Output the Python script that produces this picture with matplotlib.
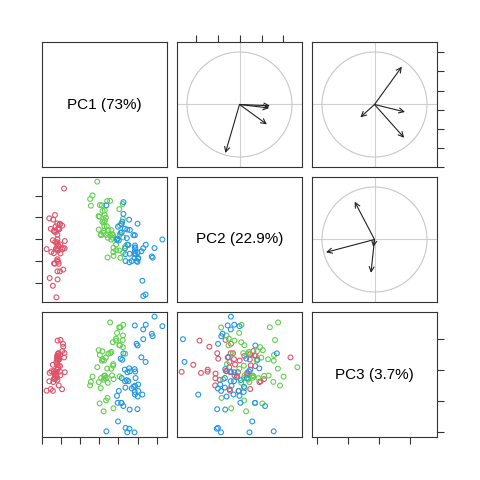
import numpy as np
import matplotlib
matplotlib.use('Agg')
import matplotlib.pyplot as plt
from matplotlib.patches import Circle

plt.rcParams['font.family'] = ['Liberation Sans', 'DejaVu Sans']

# iris measurements: sepal length, sepal width, petal length, petal width
sepal_len = [5.1,4.9,4.7,4.6,5.0,5.4,4.6,5.0,4.4,4.9,5.4,4.8,4.8,4.3,5.8,5.7,5.4,5.1,5.7,5.1,
             5.4,5.1,4.6,5.1,4.8,5.0,5.0,5.2,5.2,4.7,4.8,5.4,5.2,5.5,4.9,5.0,5.5,4.9,4.4,5.1,
             5.0,4.5,4.4,5.0,5.1,4.8,5.1,4.6,5.3,5.0,
             7.0,6.4,6.9,5.5,6.5,5.7,6.3,4.9,6.6,5.2,5.0,5.9,6.0,6.1,5.6,6.7,5.6,5.8,6.2,5.6,
             5.9,6.1,6.3,6.1,6.4,6.6,6.8,6.7,6.0,5.7,5.5,5.5,5.8,6.0,5.4,6.0,6.7,6.3,5.6,5.5,
             5.5,6.1,5.8,5.0,5.6,5.7,5.7,6.2,5.1,5.7,
             6.3,5.8,7.1,6.3,6.5,7.6,4.9,7.3,6.7,7.2,6.5,6.4,6.8,5.7,5.8,6.4,6.5,7.7,7.7,6.0,
             6.9,5.6,7.7,6.3,6.7,7.2,6.2,6.1,6.4,7.2,7.4,7.9,6.4,6.3,6.1,7.7,6.3,6.4,6.0,6.9,
             6.7,6.9,5.8,6.8,6.7,6.7,6.3,6.5,6.2,5.9]
sepal_wid = [3.5,3.0,3.2,3.1,3.6,3.9,3.4,3.4,2.9,3.1,3.7,3.4,3.0,3.0,4.0,4.4,3.9,3.5,3.8,3.8,
             3.4,3.7,3.6,3.3,3.4,3.0,3.4,3.5,3.4,3.2,3.1,3.4,4.1,4.2,3.1,3.2,3.5,3.6,3.0,3.4,
             3.5,2.3,3.2,3.5,3.8,3.0,3.8,3.2,3.7,3.3,
             3.2,3.2,3.1,2.3,2.8,2.8,3.3,2.4,2.9,2.7,2.0,3.0,2.2,2.9,2.9,3.1,3.0,2.7,2.2,2.5,
             3.2,2.8,2.5,2.8,2.9,3.0,2.8,3.0,2.9,2.6,2.4,2.4,2.7,2.7,3.0,3.4,3.1,2.3,3.0,2.5,
             2.6,3.0,2.6,2.3,2.7,3.0,2.9,2.9,2.5,2.8,
             3.3,2.7,3.0,2.9,3.0,3.0,2.5,2.9,2.5,3.6,3.2,2.7,3.0,2.5,2.8,3.2,3.0,3.8,2.6,2.2,
             3.2,2.8,2.8,2.7,3.3,3.2,2.8,3.0,2.8,3.0,2.8,3.8,2.8,2.8,2.6,3.0,3.4,3.1,3.0,3.1,
             3.1,3.1,2.7,3.2,3.3,3.0,2.5,3.0,3.4,3.0]
petal_len = [1.4,1.4,1.3,1.5,1.4,1.7,1.4,1.5,1.4,1.5,1.5,1.6,1.4,1.1,1.2,1.5,1.3,1.4,1.7,1.5,
             1.7,1.5,1.0,1.7,1.9,1.6,1.6,1.5,1.4,1.6,1.6,1.5,1.5,1.4,1.5,1.2,1.3,1.4,1.3,1.5,
             1.3,1.3,1.3,1.6,1.9,1.4,1.6,1.4,1.5,1.4,
             4.7,4.5,4.9,4.0,4.6,4.5,4.7,3.3,4.6,3.9,3.5,4.2,4.0,4.7,3.6,4.4,4.5,4.1,4.5,3.9,
             4.8,4.0,4.9,4.7,4.3,4.4,4.8,5.0,4.5,3.5,3.8,3.7,3.9,5.1,4.5,4.5,4.7,4.4,4.1,4.0,
             4.4,4.6,4.0,3.3,4.2,4.2,4.2,4.3,3.0,4.1,
             6.0,5.1,5.9,5.6,5.8,6.6,4.5,6.3,5.8,6.1,5.1,5.3,5.5,5.0,5.1,5.3,5.5,6.7,6.9,5.0,
             5.7,4.9,6.7,4.9,5.7,6.0,4.8,4.9,5.6,5.8,6.1,6.4,5.6,5.1,5.6,6.1,5.6,5.5,4.8,5.4,
             5.6,5.1,5.1,5.9,5.7,5.2,5.0,5.2,5.4,5.1]
petal_wid = [0.2,0.2,0.2,0.2,0.2,0.4,0.3,0.2,0.2,0.1,0.2,0.2,0.1,0.1,0.2,0.4,0.4,0.3,0.3,0.3,
             0.2,0.4,0.2,0.5,0.2,0.2,0.4,0.2,0.2,0.2,0.2,0.4,0.1,0.2,0.2,0.2,0.2,0.1,0.2,0.2,
             0.3,0.3,0.2,0.6,0.4,0.3,0.2,0.2,0.2,0.2,
             1.4,1.5,1.5,1.3,1.5,1.3,1.6,1.0,1.3,1.4,1.0,1.5,1.0,1.4,1.3,1.4,1.5,1.0,1.5,1.1,
             1.8,1.3,1.5,1.2,1.3,1.4,1.4,1.7,1.5,1.0,1.1,1.0,1.2,1.6,1.5,1.6,1.5,1.3,1.3,1.3,
             1.2,1.4,1.2,1.0,1.3,1.2,1.3,1.3,1.1,1.3,
             2.5,1.9,2.1,1.8,2.2,2.1,1.7,1.8,1.8,2.5,2.0,1.9,2.1,2.0,2.4,2.3,1.8,2.2,2.3,1.5,
             2.3,2.0,2.0,1.8,2.1,1.8,1.8,1.8,2.1,1.6,1.9,2.0,2.2,1.5,1.4,2.3,2.4,1.8,1.8,2.1,
             2.4,2.3,1.9,2.3,2.5,2.3,1.9,2.0,2.3,1.8]
species = [0] * 50 + [1] * 50 + [2] * 50

# PCA loadings (scaled variables) and variance labels
load_pc1 = [0.521, -0.269, 0.580, 0.565]
load_pc2 = [-0.377, -0.923, -0.024, -0.067]
load_pc3 = [0.720, -0.244, -0.142, -0.634]
pc_labels = ['PC1 (73%)', 'PC2 (22.9%)', 'PC3 (3.7%)']
pc_ticks = [[-3, -2, -1, 0, 1, 2, 3], [-2, -1, 0, 1, 2], [-1.0, -0.5, 0.0, 0.5]]
colors = ['#DF536B', '#61D04F', '#2297E6']

X = np.column_stack([sepal_len, sepal_wid, petal_len, petal_wid])
Z = (X - X.mean(0)) / X.std(0, ddof=1)
L = np.column_stack([load_pc1, load_pc2, load_pc3])
scores = Z @ L
cols = np.array(colors)[species]

lims = []
for k in range(3):
    lo, hi = scores[:, k].min(), scores[:, k].max()
    pad = 0.04 * (hi - lo)
    lims.append((lo - pad, hi + pad))

fig = plt.figure(figsize=(4.8, 4.8), dpi=100)
W = 480.0
size, gap, off = 125 / W, 10 / W, 42 / W

axes = [[None] * 3 for _ in range(3)]
for i in range(3):
    for j in range(3):
        ax = fig.add_axes([off + j * (size + gap), 1 - off - size - i * (size + gap), size, size])
        ax.set_xlim(lims[j]); ax.set_ylim(lims[i])
        for s in ax.spines.values():
            s.set_color('#333333'); s.set_linewidth(0.8)
        ax.tick_params(which='both', bottom=False, top=False, left=False, right=False,
                       labelbottom=False, labeltop=False, labelleft=False, labelright=False,
                       length=5, width=0.8, color='#333333', direction='out')
        ax.set_xticks([t for t in pc_ticks[j] if lims[j][0] <= t <= lims[j][1]])
        ax.set_yticks([t for t in pc_ticks[i] if lims[i][0] <= t <= lims[i][1]])
        axes[i][j] = ax

        if i == j:
            ax.text(0.5, 0.5, pc_labels[i], transform=ax.transAxes,
                    ha='center', va='center', fontsize=11)
        elif i > j:
            ax.scatter(scores[:, j], scores[:, i], s=12, facecolors='none',
                       edgecolors=cols, linewidths=0.8)
        else:
            ax.axhline(lims[i][0] + 0.5 * (lims[i][1] - lims[i][0]), color='#d0d0d0', lw=0.8, zorder=0)
            ax.axvline(lims[j][0] + 0.5 * (lims[j][1] - lims[j][0]), color='#d0d0d0', lw=0.8, zorder=0)
            r = 0.42
            ax.add_patch(Circle((0.5, 0.5), r, transform=ax.transAxes, fill=False,
                                ec='#c8c8c8', lw=0.8))
            for vx, vy in zip(L[:, i], L[:, j]):
                ax.annotate('', xy=(0.5 + r * vx, 0.5 + r * vy), xytext=(0.5, 0.5),
                            xycoords='axes fraction', textcoords='axes fraction',
                            arrowprops=dict(arrowstyle='->,head_length=0.35,head_width=0.18',
                                            color='#222222', lw=0.8, shrinkA=0, shrinkB=0))

axes[0][1].tick_params(top=True)
axes[0][2].tick_params(right=True)
axes[1][0].tick_params(left=True)
axes[2][0].tick_params(bottom=True)
axes[2][2].tick_params(bottom=True, right=True)

plt.savefig('out.png', dpi=100)
plt.close()
